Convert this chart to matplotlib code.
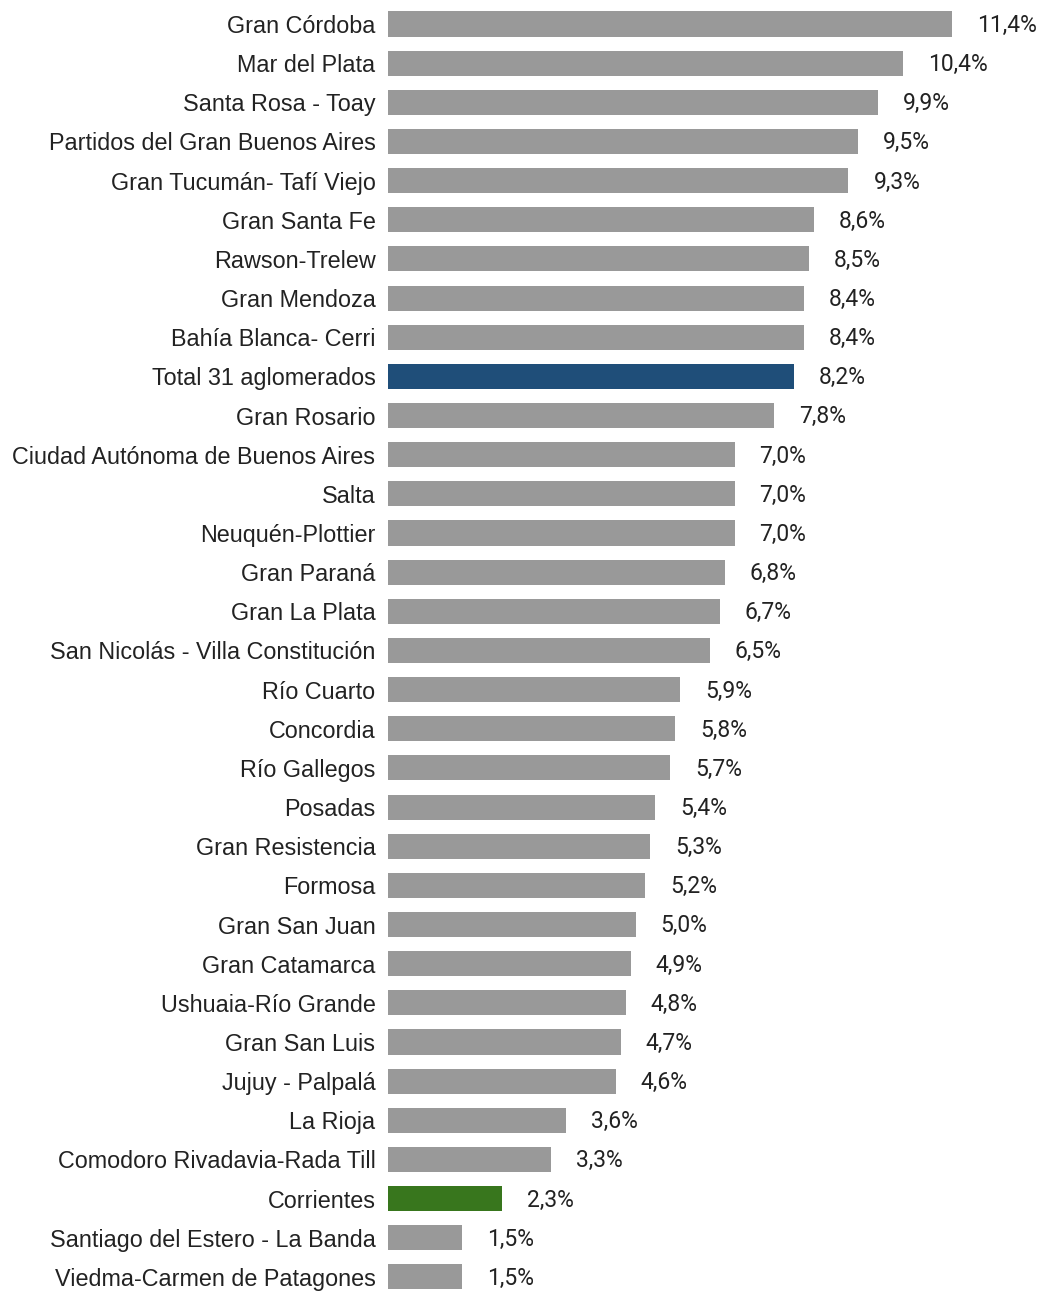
import matplotlib.pyplot as plt

categories = [
    "Gran Córdoba", "Mar del Plata", "Santa Rosa - Toay", "Partidos del Gran Buenos Aires",
    "Gran Tucumán- Tafí Viejo", "Gran Santa Fe", "Rawson-Trelew", "Gran Mendoza",
    "Bahía Blanca- Cerri", "Total 31 aglomerados", "Gran Rosario",
    "Ciudad Autónoma de Buenos Aires", "Salta", "Neuquén-Plottier", "Gran Paraná",
    "Gran La Plata", "San Nicolás - Villa Constitución", "Río Cuarto", "Concordia",
    "Río Gallegos", "Posadas", "Gran Resistencia", "Formosa", "Gran San Juan",
    "Gran Catamarca", "Ushuaia-Río Grande", "Gran San Luis", "Jujuy - Palpalá",
    "La Rioja", "Comodoro Rivadavia-Rada Till", "Corrientes",
    "Santiago del Estero - La Banda", "Viedma-Carmen de Patagones",
]
values = [
    11.4, 10.4, 9.9, 9.5, 9.3, 8.6, 8.5, 8.4, 8.4, 8.2, 7.8, 7.0, 7.0, 7.0, 6.8,
    6.7, 6.5, 5.9, 5.8, 5.7, 5.4, 5.3, 5.2, 5.0, 4.9, 4.8, 4.7, 4.6, 3.6, 3.3,
    2.3, 1.5, 1.5,
]

GRAY = "#999999"
BLUE = "#1f4e79"
GREEN = "#38761d"
colors = [BLUE if c == "Total 31 aglomerados" else GREEN if c == "Corrientes" else GRAY
          for c in categories]

fig = plt.figure(figsize=(10.41, 12.91), dpi=100)
ax = fig.add_axes([0.3727, 0.0, 0.991 - 0.3727, 1.0])

pos = list(range(len(categories)))
ax.barh(pos, values, height=0.64, color=colors)

for i, v in zip(pos, values):
    ax.annotate(f"{v:.1f}%".replace(".", ","), xy=(v, i), xytext=(18, -1),
                textcoords="offset points", va="center", ha="left",
                fontsize=16.5, family="Roboto", color="#222222")

ax.set_yticks(pos)
ax.set_yticklabels(categories, family="Liberation Sans", fontsize=16.8, color="#222222")
ax.tick_params(axis="y", length=0, pad=9)
ax.set_xticks([])
ax.set_xlim(0, 13)
ax.set_ylim(32.36, -0.613)
for s in ax.spines.values():
    s.set_visible(False)

fig.savefig("out.png", dpi=100)
